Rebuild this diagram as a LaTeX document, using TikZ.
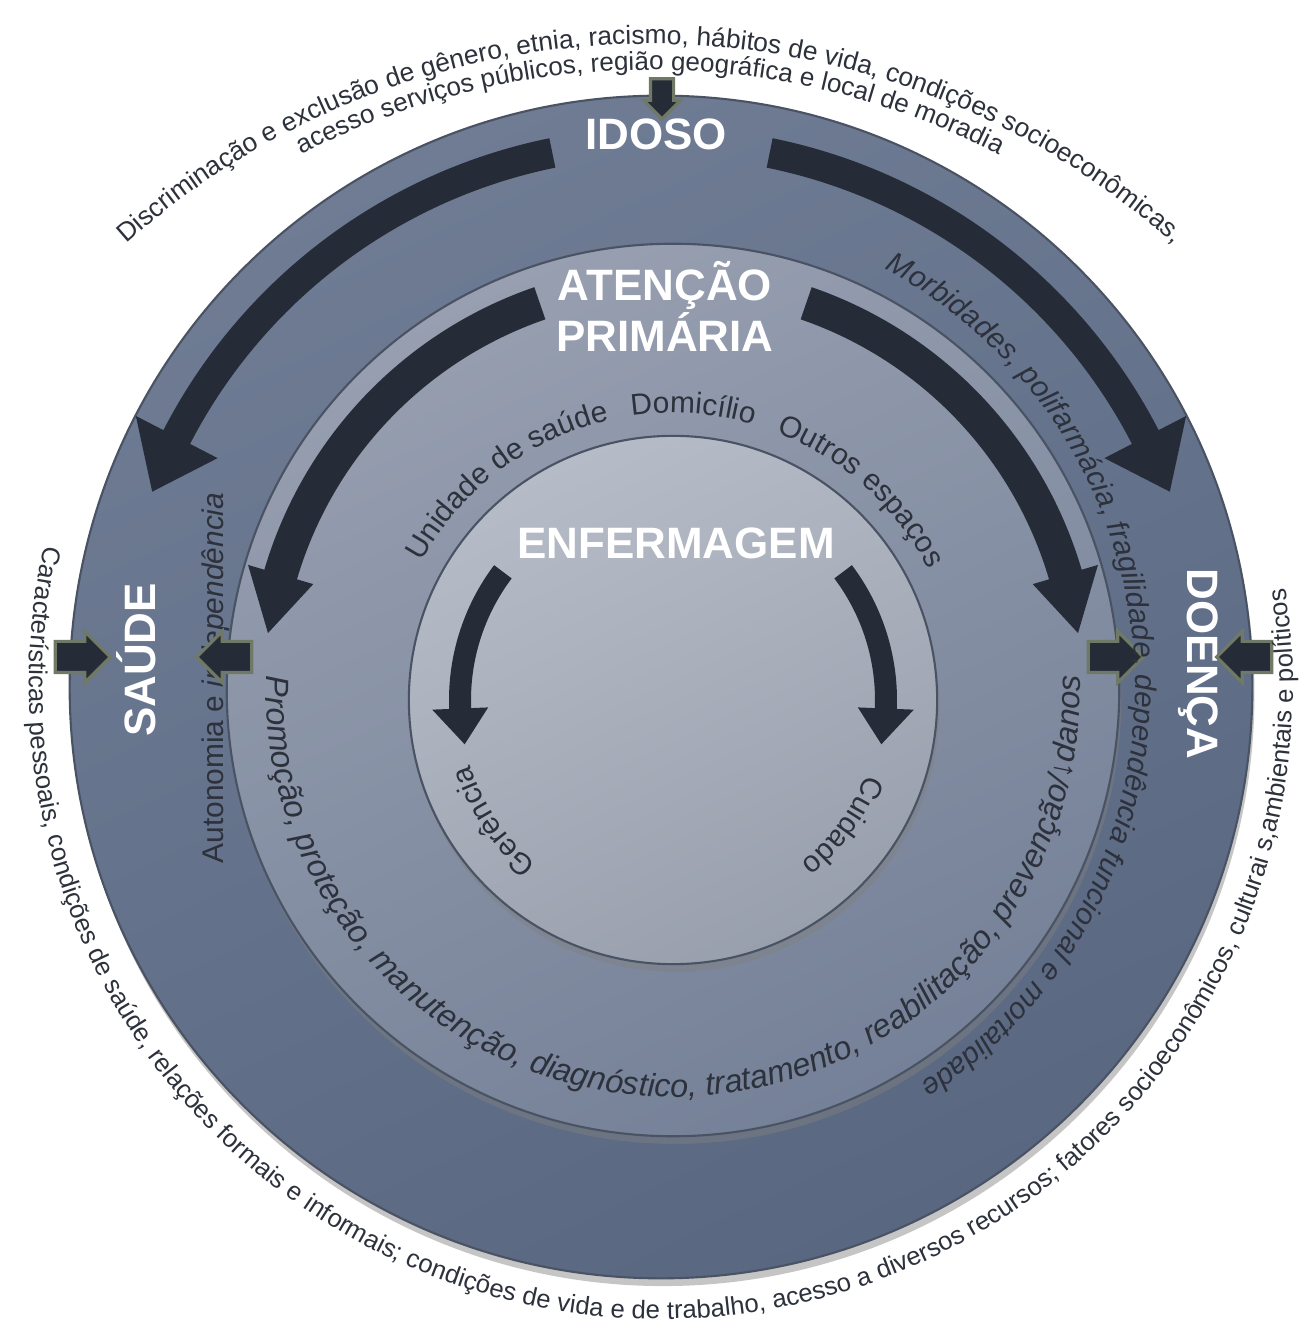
\documentclass[tikz,border=0pt]{standalone}
\usepackage{fontspec}
\setmainfont{Liberation Sans}
\usetikzlibrary{shapes.arrows}
\usetikzlibrary{decorations.text}
\usetikzlibrary{shadows}

\definecolor{outertop}{HTML}{6F7C94}
\definecolor{outerbottom}{HTML}{596781}
\definecolor{midtop}{HTML}{979FB0}
\definecolor{midbottom}{HTML}{758198}
\definecolor{innertop}{HTML}{B6BCC7}
\definecolor{innerbottom}{HTML}{99A0AD}
\definecolor{ringedge}{HTML}{4A5364}
\definecolor{arrowdark}{HTML}{262C37}
\definecolor{arrowedge}{HTML}{6F7966}
\definecolor{textdark}{HTML}{2C313B}

\tikzset{
  ring/.style={circle, inner sep=0pt, draw=ringedge, line width=0.6pt,
    drop shadow={opacity=0.45, shadow xshift=0.6pt, shadow yshift=-2.2pt}},
  bigarrow/.style={fill=arrowdark},
  smallarrow/.style={single arrow, draw=arrowedge, fill=arrowdark, line width=0.9pt,
    inner xsep=0pt, inner ysep=0.14cm, single arrow head extend=0.1cm, minimum height=0.55cm},
  ringtitle/.style={text=white, font=\fontsize{12.5}{14.5}\selectfont\bfseries, align=center},
  arctext/.style={decorate, decoration={text along path, text align=center, text color=textdark, text={#1}}}
}

\newcommand{\curvedarrow}[7]{
  \begin{scope}[shift={(#1)}]
    \pgfmathsetmacro{\arcout}{#2+#3}
    \pgfmathsetmacro{\arcin}{#2-#3}
    \pgfmathsetmacro{\headout}{#2+#7}
    \pgfmathsetmacro{\headin}{#2-#7}
    \fill[bigarrow] (#4:\arcout) arc[start angle=#4, end angle=#5, radius=\arcout] -- (#5:\headout) -- (#6:#2) -- (#5:\headin) -- (#5:\arcin) arc[start angle=#5, end angle=#4, radius=\arcin] -- cycle;
  \end{scope}}

\begin{document}
\begin{tikzpicture}[x=0.01cm, y=0.01cm]
			\useasboundingbox (0,0) rectangle (1313,1321);
			\fill[white] (0,0) rectangle (1313,1321);
			\node[ring, top color=outertop, bottom color=outerbottom, shading angle=25, minimum size=11.82cm] (outer) at (661,634) {};
			\node[ring, top color=midtop, bottom color=midbottom, shading angle=25, minimum size=8.92cm] (middle) at (673,631) {};
			\node[ring, top color=innertop, bottom color=innerbottom, shading angle=25, minimum size=5.28cm] (inner) at (673,621) {};
			\coordinate (topcentre) at (650,491);

			\curvedarrow{outer.center}{545}{15}{101.5}{152.7}{159}{46}
			\curvedarrow{outer.center}{545}{15}{78.5}{27.3}{21}{46}
			\curvedarrow{middle.center}{409}{17}{109}{163.6}{172}{34}
			\curvedarrow{middle.center}{409}{17}{71}{16.4}{8}{34}
			\curvedarrow{inner.center}{213}{11}{143}{182.3}{192}{28}
			\curvedarrow{inner.center}{213}{11}{37}{-2.3}{-12}{28}

			\node[ringtitle] (idoso) at (656,1187) {IDOSO};
			\node[ringtitle] (atencao) at (665,1015) {ATENÇÃO\\PRIMÁRIA};
			\node[ringtitle] (enfermagem) at (676,778) {ENFERMAGEM};
			\node[ringtitle, rotate=90] (saude) at (136,661) {SAÚDE};
			\node[ringtitle, rotate=-90] (doenca) at (1198,657) {DOENÇA};
			\node[text=textdark, font=\fontsize{8.5}{10}\selectfont, rotate=90] (autonomia) at (216,643) {Autonomia e \textit{independência}};

			\node[smallarrow, rotate=-90, inner ysep=0.1cm, single arrow head extend=0.07cm, minimum height=0.4cm] (idosoin) at (662,1228) {};
			\node[smallarrow] (saudeout) at (75,664) {};
			\node[smallarrow, rotate=180] (saudein) at (232,664) {};
			\node[smallarrow] (doencain) at (1108,664) {};
			\node[smallarrow, rotate=180] (doencaout) at (1252,664) {};

			\path[arctext={|\fontsize{7.5}{9}\selectfont|Discriminação e exclusão de gênero, etnia, racismo, hábitos de vida, condições socioeconômicas,}] (topcentre) ++(142:786) arc[start angle=142, end angle=38, radius=786];
			\path[arctext={|\fontsize{7.4}{9}\selectfont|acesso serviços públicos, região geográfica e local de moradia}] (topcentre) ++(125:760) arc[start angle=125, end angle=55, radius=760];
			\path[arctext={|\fontsize{7.3}{8.8}\selectfont|Características pessoais, condições de saúde, relações formais e informais; condições de vida e de trabalho, acesso a diversos recursos; fatores socioeconômicos, culturai s,ambientais e políticos}] (outer.center) ++(150:632) arc[start angle=150, end angle=386, radius=632];
			\path[arctext={|\fontsize{8.4}{10}\selectfont\itshape|Morbidades, polifarmácia, fragilidade, dependência funcional e mortalidade}] (outer.center) ++(75:474) arc[start angle=75, end angle=-70, radius=474];
			\path[arctext={|\fontsize{9.2}{11}\selectfont\itshape|Promoção, proteção, manutenção, diagnóstico, tratamento, reabilitação, prevenção/↓danos}] (middle.center) ++(165:407) arc[start angle=165, end angle=375, radius=407];
			\path[arctext={|\fontsize{8.5}{10}\selectfont|Unidade de saúde}] (inner.center) ++(155:287) arc[start angle=155, end angle=99, radius=287];
			\path[arctext={|\fontsize{8.5}{10}\selectfont|Domicílio}] (inner.center) ++(106:287) arc[start angle=106, end angle=66, radius=287];
			\path[arctext={|\fontsize{8.5}{10}\selectfont|Outros espaços}] (inner.center) ++(75:287) arc[start angle=75, end angle=21, radius=287];
			\path[arctext={|\fontsize{8.5}{10}\selectfont|Gerência}] (inner.center) ++(240:213) arc[start angle=240, end angle=188, radius=213];
			\path[arctext={|\fontsize{8.5}{10}\selectfont|Cuidado}] (inner.center) ++(-10:207) arc[start angle=-10, end angle=-63, radius=207];
		\end{tikzpicture}
\end{document}
